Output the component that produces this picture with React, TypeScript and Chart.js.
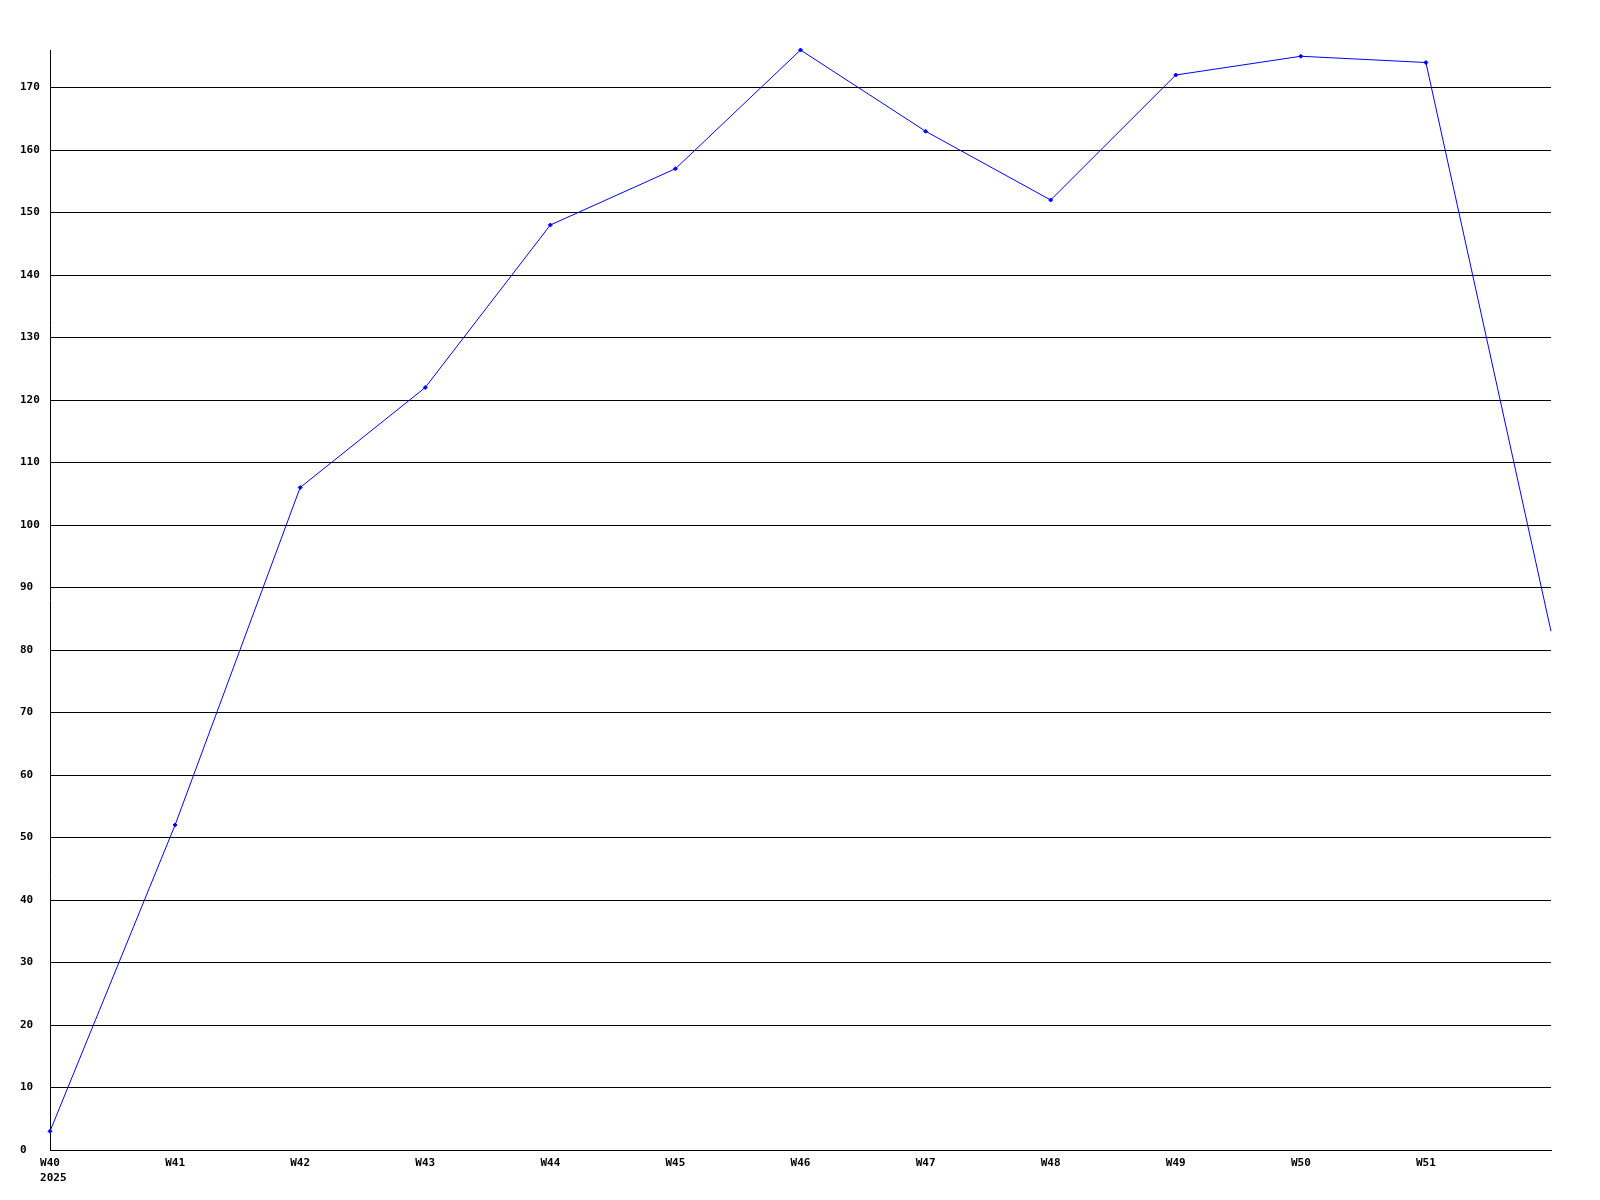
import React, { useEffect, useRef } from "react";
import { Chart, registerables } from "chart.js";

Chart.register(...registerables);

const weekLabels: (string | string[])[] = [
  ["W40", " 2025"], "W41", "W42", "W43", "W44", "W45", "W46", "W47", "W48", "W49", "W50", "W51", "",
];
const seriesValues = [3, 52, 106, 122, 148, 157, 176, 163, 152, 172, 175, 174, 83];
const yMin = 0;
const yMax = 176;
const yStep = 10;

export default function App() {
  const ref = useRef<HTMLCanvasElement | null>(null);
  useEffect(() => {
    if (!ref.current) return;
    const font = { family: "'DejaVu Sans Mono', monospace", size: 11, weight: "bold" as const, lineHeight: 1.4 };
    const chart = new Chart(ref.current, {
      type: "line",
      data: {
        labels: weekLabels,
        datasets: [
          {
            data: seriesValues,
            borderColor: "#0000ff",
            backgroundColor: "#0000ff",
            borderWidth: 1,
            pointStyle: "rectRot",
            pointRadius: seriesValues.map((_, i) => (i === seriesValues.length - 1 ? 0 : 2)),
            pointBorderWidth: 1,
            tension: 0,
            fill: false,
            clip: 4,
          },
        ],
      },
      options: {
        animation: false,
        responsive: false,
        devicePixelRatio: 1,
        layout: { padding: { left: 20, top: 50, right: 49, bottom: 0 } },
        plugins: { legend: { display: false }, tooltip: { enabled: false } },
        scales: {
          x: {
            type: "category",
            offset: false,
            grid: { display: false, drawTicks: false },
            border: { display: true, color: "#000000", width: 1 },
            ticks: {
              color: "#000000",
              font,
              padding: 5,
              maxRotation: 0,
              autoSkip: false,
            },
            afterFit: (s: any) => {
              s.height = 50;
            },
          },
          y: {
            min: yMin,
            max: yMax,
            grid: { color: "#000000", lineWidth: 1, drawTicks: false },
            border: { display: true, color: "#000000", width: 1 },
            ticks: { stepSize: yStep, color: "#000000", font, padding: 10, crossAlign: "far" },
            afterBuildTicks: (s: any) => {
              s.ticks = s.ticks.filter((t: any) => t.value % yStep === 0);
            },
            afterFit: (s: any) => {
              s.width = 30;
            },
          },
        },
      },
    });
    return () => chart.destroy();
  }, []);
  return (
    <div style={{ position: "fixed", left: 0, top: 0, width: 1600, height: 1200, background: "#fff" }}>
      <canvas ref={ref} width={1600} height={1200} style={{ width: 1600, height: 1200 }} />
    </div>
  );
}
